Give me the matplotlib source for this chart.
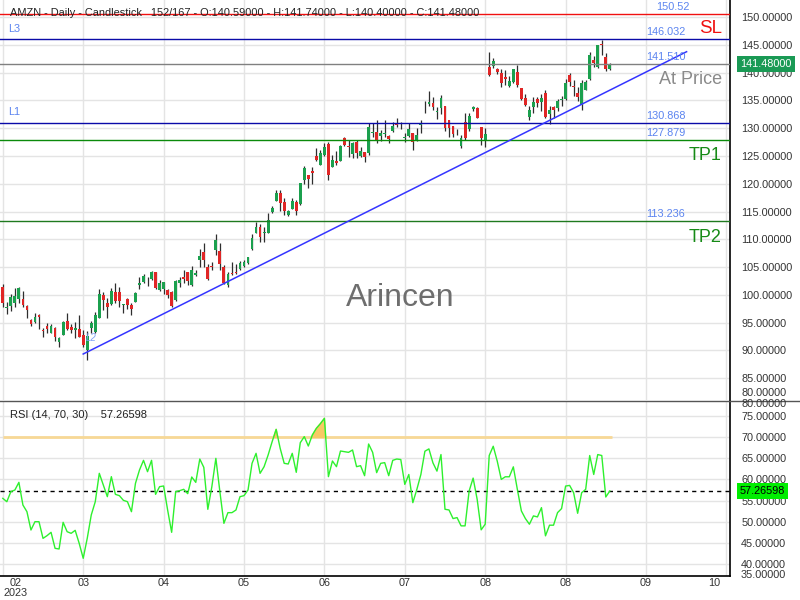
import numpy as np
import matplotlib.pyplot as plt
from matplotlib.lines import Line2D
from matplotlib.transforms import blended_transform_factory

plt.rcParams['font.family'] = ['Liberation Sans', 'DejaVu Sans']

# daily candles, index 0 = first session shown
opens = [101.47, 97.57, 97.99, 98.59, 99.19, 99.31, 98.05, 95.53, 95.17, 96.43,
         93.67, 94.45, 93.19, 94.03, 91.51, 92.83, 95.29, 94.21, 93.67, 93.85,
         92.77, 90.07, 94.09, 93.37, 95.89, 99.91, 98.47, 98.35, 100.51, 100.51,
         98.23, 99.19, 98.17, 98.77, 101.83, 102.31, 102.43, 102.85, 104.11, 100.87,
         101.05, 100.87, 100.57, 99.07, 102.19, 103.27, 104.11, 101.77, 103.63, 106.27,
         107.71, 105.01, 105.26, 108.08, 107.90, 105.08, 101.78, 103.94, 104.12, 104.60,
         105.20, 105.68, 108.20, 111.20, 112.28, 111.20, 111.20, 114.98, 116.90, 118.40,
         116.78, 114.38, 115.46, 116.78, 116.30, 120.68, 121.58, 122.30, 125.06, 123.38,
         125.18, 127.16, 123.08, 124.10, 124.16, 128.30, 126.80, 125.30, 127.58, 125.06,
         125.72, 125.48, 129.20, 129.26, 128.66, 129.02, 128.66, 129.56, 130.88, 130.34,
         128.24, 128.66, 129.08, 127.88, 130.50, 134.46, 134.34, 134.58, 132.94, 133.55,
         134.03, 131.48, 130.44, 129.53, 126.73, 131.17, 129.89, 133.43, 133.67, 130.20,
         127.64, 141.04, 141.16, 140.67, 140.00, 139.21, 137.51, 138.30, 140.19, 137.26,
         135.37, 132.03, 133.73, 135.31, 134.64, 136.41, 132.63, 133.85, 133.55, 135.07,
         135.19, 139.58, 137.57, 136.41, 134.22, 136.96, 138.91, 142.26, 141.04, 145.24,
         142.87, 140.59]
highs = [101.95, 98.77, 100.15, 101.17, 101.35, 100.75, 98.17, 95.71, 96.67, 96.55,
         93.97, 94.87, 94.81, 94.27, 92.47, 95.35, 96.67, 94.75, 95.17, 96.37,
         93.67, 93.49, 95.29, 96.97, 101.05, 100.57, 99.49, 101.17, 102.07, 101.35,
         98.29, 99.49, 98.59, 100.51, 103.15, 103.69, 103.27, 104.35, 104.11, 102.67,
         102.31, 100.99, 100.75, 102.67, 103.27, 104.47, 104.17, 105.19, 104.47, 108.19,
         109.27, 105.49, 105.99, 110.96, 109.40, 105.38, 104.18, 105.98, 105.56, 106.10,
         106.28, 106.88, 110.96, 113.18, 112.70, 112.16, 114.80, 116.00, 118.88, 118.88,
         117.38, 115.28, 117.38, 117.08, 120.08, 123.20, 121.58, 122.96, 126.38, 126.08,
         127.28, 127.58, 125.18, 125.90, 126.98, 128.48, 127.88, 127.58, 127.88, 126.68,
         125.72, 130.88, 130.88, 131.48, 129.68, 131.48, 128.78, 131.18, 131.78, 131.18,
         129.08, 130.99, 129.20, 129.95, 131.42, 134.95, 136.77, 135.68, 133.73, 136.04,
         134.03, 131.48, 130.44, 129.77, 128.86, 132.82, 132.82, 134.03, 133.85, 130.20,
         129.95, 143.78, 142.56, 140.86, 140.73, 140.55, 139.33, 140.73, 141.46, 137.26,
         136.17, 134.03, 135.56, 135.68, 136.17, 136.90, 134.03, 134.03, 135.25, 135.86,
         138.91, 139.94, 138.60, 137.38, 138.60, 138.72, 143.78, 142.99, 144.99, 145.91,
         143.60, 141.74]
lows = [97.75, 96.49, 97.15, 97.75, 98.59, 97.87, 95.89, 94.39, 94.93, 93.91,
        92.47, 93.19, 93.07, 91.75, 90.67, 92.71, 93.67, 93.07, 92.17, 92.47,
        90.67, 88.27, 93.07, 93.07, 95.89, 97.27, 95.89, 98.17, 98.59, 97.87,
        96.67, 97.39, 96.37, 98.71, 100.99, 102.19, 101.65, 102.67, 100.99, 100.69,
        100.15, 99.43, 97.87, 98.95, 101.35, 102.19, 101.77, 101.59, 103.39, 105.07,
        105.07, 102.67, 104.47, 107.18, 104.48, 101.96, 101.36, 103.58, 103.76, 104.48,
        105.08, 105.56, 108.08, 111.08, 109.58, 109.58, 111.20, 114.80, 116.90, 115.10,
        114.38, 114.20, 115.46, 114.38, 116.18, 119.90, 119.30, 119.90, 124.16, 123.38,
        124.99, 120.68, 122.96, 123.38, 124.10, 126.80, 124.88, 124.58, 124.58, 124.76,
        123.98, 125.18, 128.48, 127.28, 127.76, 128.48, 127.40, 129.38, 130.28, 129.80,
        127.58, 128.48, 126.08, 127.64, 129.16, 132.82, 134.03, 133.36, 131.60, 132.64,
        129.47, 128.49, 128.49, 128.74, 126.42, 127.94, 129.47, 133.12, 131.78, 127.03,
        126.55, 139.39, 140.92, 139.82, 137.38, 137.69, 137.38, 138.18, 137.38, 135.13,
        133.97, 131.42, 132.82, 133.85, 133.12, 131.90, 130.81, 131.78, 133.12, 134.03,
        135.07, 137.51, 135.86, 134.83, 133.36, 136.90, 138.72, 141.04, 140.92, 143.17,
        140.25, 140.40]
closes = [98.47, 97.75, 99.67, 99.79, 101.23, 98.17, 97.27, 94.75, 96.01, 96.07,
          93.55, 93.85, 94.45, 92.47, 92.29, 95.05, 93.79, 93.67, 94.09, 92.47,
          90.97, 92.65, 94.93, 96.37, 100.15, 99.07, 97.87, 100.69, 98.95, 98.95,
          98.29, 98.17, 97.45, 100.39, 102.07, 103.39, 102.55, 104.11, 101.29, 102.19,
          102.31, 99.91, 98.05, 102.49, 102.67, 102.85, 102.55, 104.47, 103.87, 106.99,
          106.27, 102.79, 105.08, 109.88, 105.56, 102.08, 103.70, 103.82, 104.00, 105.68,
          105.98, 106.76, 110.18, 112.28, 110.48, 111.32, 113.48, 115.70, 118.40, 116.48,
          115.16, 115.16, 116.90, 115.16, 120.08, 122.78, 120.80, 121.88, 124.28, 125.48,
          126.68, 121.58, 124.28, 123.68, 126.80, 126.98, 126.56, 127.28, 125.60, 125.90,
          124.88, 130.28, 129.32, 127.70, 129.20, 129.14, 128.06, 130.40, 130.52, 130.46,
          128.36, 129.80, 127.46, 128.80, 130.87, 134.58, 134.77, 133.73, 133.06, 135.44,
          130.08, 130.08, 129.04, 129.41, 128.19, 128.25, 132.27, 133.85, 131.90, 128.25,
          128.98, 139.64, 142.07, 140.12, 138.11, 138.79, 138.48, 140.67, 137.69, 135.25,
          134.10, 133.30, 134.77, 134.46, 135.50, 132.03, 133.30, 133.30, 134.95, 135.19,
          138.18, 138.30, 137.45, 135.68, 138.11, 138.30, 143.17, 141.65, 144.99, 144.94,
          140.61, 141.48]

rsi = [55.53, 54.74, 57.11, 57.51, 59.32, 53.95, 52.37, 48.03, 50.00, 50.00,
       46.05, 46.69, 47.48, 43.69, 43.53, 49.85, 47.63, 47.24, 47.95, 44.87,
       41.32, 46.05, 51.58, 54.74, 61.46, 58.69, 55.93, 60.67, 56.48, 56.17,
       55.06, 54.74, 52.37, 59.09, 62.25, 64.54, 61.85, 64.54, 56.48, 58.30,
       58.46, 52.77, 47.48, 57.11, 57.35, 57.67, 56.64, 60.59, 59.32, 64.85,
       62.88, 52.93, 58.30, 65.01, 57.11, 49.61, 52.14, 52.14, 52.77, 55.93,
       56.17, 57.51, 63.83, 66.20, 61.46, 63.04, 65.80, 68.96, 71.88, 67.38,
       63.83, 63.67, 66.20, 61.70, 68.72, 70.15, 67.93, 70.54, 72.12, 73.23,
       74.49, 60.67, 64.38, 63.04, 66.75, 66.59, 66.43, 66.99, 63.04, 63.27,
       60.90, 68.41, 66.43, 61.62, 63.83, 63.99, 60.90, 64.54, 64.85, 64.73,
       58.84, 61.19, 54.51, 57.66, 61.19, 66.70, 67.25, 63.95, 61.98, 65.91,
       52.94, 52.78, 50.74, 50.97, 49.01, 49.01, 57.26, 60.33, 55.30, 48.07,
       49.40, 65.68, 67.88, 64.34, 60.02, 60.64, 60.64, 63.00, 57.66, 52.55,
       50.74, 49.40, 51.37, 51.13, 53.33, 46.65, 49.17, 49.17, 52.15, 53.10,
       58.44, 58.60, 56.87, 51.99, 56.87, 57.66, 65.68, 61.19, 65.91, 65.68,
       55.85, 57.26598]

month_labels = ['02', '03', '04', '05', '06', '07', '08', '08', '09', '10']
month_ticks = [0, 20, 40, 60, 80, 100, 120, 140, 160, 180]

sl_level = 150.52
level_l3 = 146.032
level_mid = 141.510
level_l1 = 130.868
tp1_level = 127.879
tp2_level = 113.236
last_price = 141.48
rsi_last = 57.26598

trend_x = [20.0, 170.1]
trend_y = [89.35, 143.77]

header = ('AMZN - Daily - Candlestick   152/167 - O:140.59000 - H:141.74000 '
          '- L:140.40000 - C:141.48000')

x = np.arange(len(closes))
o = np.array(opens)
c = np.array(closes)
up = c >= o

fig = plt.figure(figsize=(8, 6), dpi=100)
ax = fig.add_axes([0, 1 - 400 / 600, 730 / 800, 400 / 600])
rax = fig.add_axes([0, 1 - 576 / 600, 730 / 800, 175 / 600], sharex=ax)

grid_c = '#e4e4e4'
tick_c = '#333333'
lab_blue = '#5b84f0'

# --- price panel ---
ax.set_xlim(-0.7, 180.9)
ax.set_ylim(81.07, 153.08)
ax.set_yticks(np.arange(85, 151, 5))
ax.set_yticklabels([f'{v:.5f}' for v in np.arange(85, 151, 5)])
ax.yaxis.tick_right()
ax.tick_params(axis='y', length=0, pad=8, labelsize=7.8, labelcolor=tick_c)
ax.set_xticks(month_ticks)
ax.tick_params(axis='x', length=0, labelbottom=False)
ax.grid(True, color=grid_c, lw=1)
ax.set_axisbelow(True)
for s in ['left', 'top', 'bottom']:
    ax.spines[s].set_visible(False)
ax.spines['right'].set_color('black')
ax.spines['right'].set_linewidth(1.2)

ax.vlines(x, lows, highs, color='#2e2e2e', lw=0.9, zorder=2)
body_h = np.maximum(np.abs(c - o), 0.12)
ax.bar(x, body_h, bottom=np.minimum(o, c), width=0.7,
       color=np.where(up, '#1ba04e', '#e02626'), zorder=3)

ax.axhline(sl_level, color='#f01010', lw=1, zorder=4)
ax.axhline(level_l3, color='#0a0aa8', lw=1, zorder=4)
ax.axhline(last_price, color='#808080', lw=1, zorder=4)
ax.axhline(level_l1, color='#0a0aa8', lw=1, zorder=4)
ax.axhline(tp1_level, color='#0a8a0a', lw=1, zorder=4)
ax.axhline(tp2_level, color='#1f7a1f', lw=1, zorder=4)
ax.plot(trend_x, trend_y, color='#3535ff', lw=1.1, zorder=5)

for val, txt in [(sl_level, '150.52'), (level_l3, '146.032'), (level_mid, '141.510'),
                 (level_l1, '130.868'), (tp1_level, '127.879'), (tp2_level, '113.236')]:
    dx = 2.5 if txt == '150.52' else 0
    ax.annotate(txt, (160.0 + dx, val), xytext=(0, 5), textcoords='offset points',
                ha='left', va='center', fontsize=7.8, color=lab_blue, zorder=6)

ax.text(1.3, 147.86, 'L3', fontsize=7.8, color=lab_blue, va='center')
ax.text(1.3, 132.9, 'L1', fontsize=7.8, color=lab_blue, va='center')
ax.text(21.9, 92.2, 'L2', fontsize=7, color='#7fa2f5', va='center', ha='center',
        style='italic')
ax.text(178.9, 147.86, 'SL', fontsize=13.5, color='#f01010', ha='right', va='center')
ax.text(178.9, 138.7, 'At Price', fontsize=13, color='#8a8a8a', ha='right', va='center')
ax.text(178.9, 125.0, 'TP1', fontsize=13, color='#168a16', ha='right', va='center')
ax.text(178.9, 110.4, 'TP2', fontsize=13, color='#168a16', ha='right', va='center')

yb = blended_transform_factory(ax.transAxes, ax.transData)
ax.text(1.014, last_price, f'{last_price:.5f}', transform=yb, fontsize=7.8,
        color='white', va='center', ha='left',
        bbox=dict(facecolor='#1a9a55', edgecolor='none', pad=2.2))

# --- RSI panel ---
rsi_arr = np.array(rsi)
rax.set_ylim(37.13, 78.6)
rax.set_yticks(np.arange(40, 76, 5))
rax.set_yticklabels([f'{v:.5f}' for v in np.arange(40, 76, 5)])
rax.yaxis.tick_right()
rax.tick_params(axis='y', length=0, pad=8, labelsize=7.8, labelcolor=tick_c)
rax.tick_params(axis='x', length=0, labelbottom=False)
rax.grid(True, color=grid_c, lw=1)
rax.set_axisbelow(True)
for s in ['left', 'top']:
    rax.spines[s].set_visible(False)
for s in ['right', 'bottom']:
    rax.spines[s].set_color('black')
    rax.spines[s].set_linewidth(1.2)

rax.hlines(70, 0, len(rsi) - 0.5, color='#f7d896', lw=2, zorder=2)
rax.fill_between(x, 70, rsi_arr, where=rsi_arr > 70, interpolate=True,
                 color='#f8c965', zorder=2)
rax.axhline(rsi_last, color='black', lw=1, ls=(0, (3, 3)), zorder=3)
rax.plot(x, rsi_arr, color='#2ef02e', lw=1, zorder=4)

rb = blended_transform_factory(rax.transAxes, rax.transData)
rax.text(1.0135, rsi_last, f'{rsi_last:.5f}', transform=rb, fontsize=7.8,
         color='black', va='center', ha='left',
         bbox=dict(facecolor='#00ee00', edgecolor='none', pad=2.2))

# labels pushed against the panel edges
fig.text(741 / 800, 1 - 393 / 600, '80.00000', fontsize=7.8, color=tick_c, va='center')
fig.text(741 / 800, 1 - 404 / 600, '80.00000', fontsize=7.8, color=tick_c, va='center')
fig.text(741 / 800, 1 - 575 / 600, '35.00000', fontsize=7.8, color=tick_c, va='center')

# month labels
xt = blended_transform_factory(rax.transData, fig.transFigure)
for k, (pos, lab) in enumerate(zip(month_ticks, month_labels)):
    shift = 3.2 if k == 0 else (-3.0 if k == len(month_ticks) - 1 else 0)
    rax.text(pos + shift, 1 - 583 / 600, lab, transform=xt, fontsize=7.8,
             color=tick_c, ha='center', va='center', clip_on=False)
rax.text(month_ticks[0] + 3.2, 1 - 593 / 600, '2023', transform=xt, fontsize=7.8,
         color=tick_c, ha='center', va='center', clip_on=False)

fig.add_artist(Line2D([0, 1], [1 - 400.5 / 600] * 2, color='#555555', lw=1))

fig.text(10 / 800, 1 - 13 / 600, header, fontsize=7.9, color='#222222', va='center')
fig.text(10 / 800, 1 - 415 / 600, 'RSI (14, 70, 30)    57.26598', fontsize=8,
         color='#222222', va='center')
fig.text(0.5, 1 - 298 / 600, 'Arincen', fontsize=23, color='#6e6e6e',
         ha='center', va='center')

fig.savefig('out.png', dpi=100)
